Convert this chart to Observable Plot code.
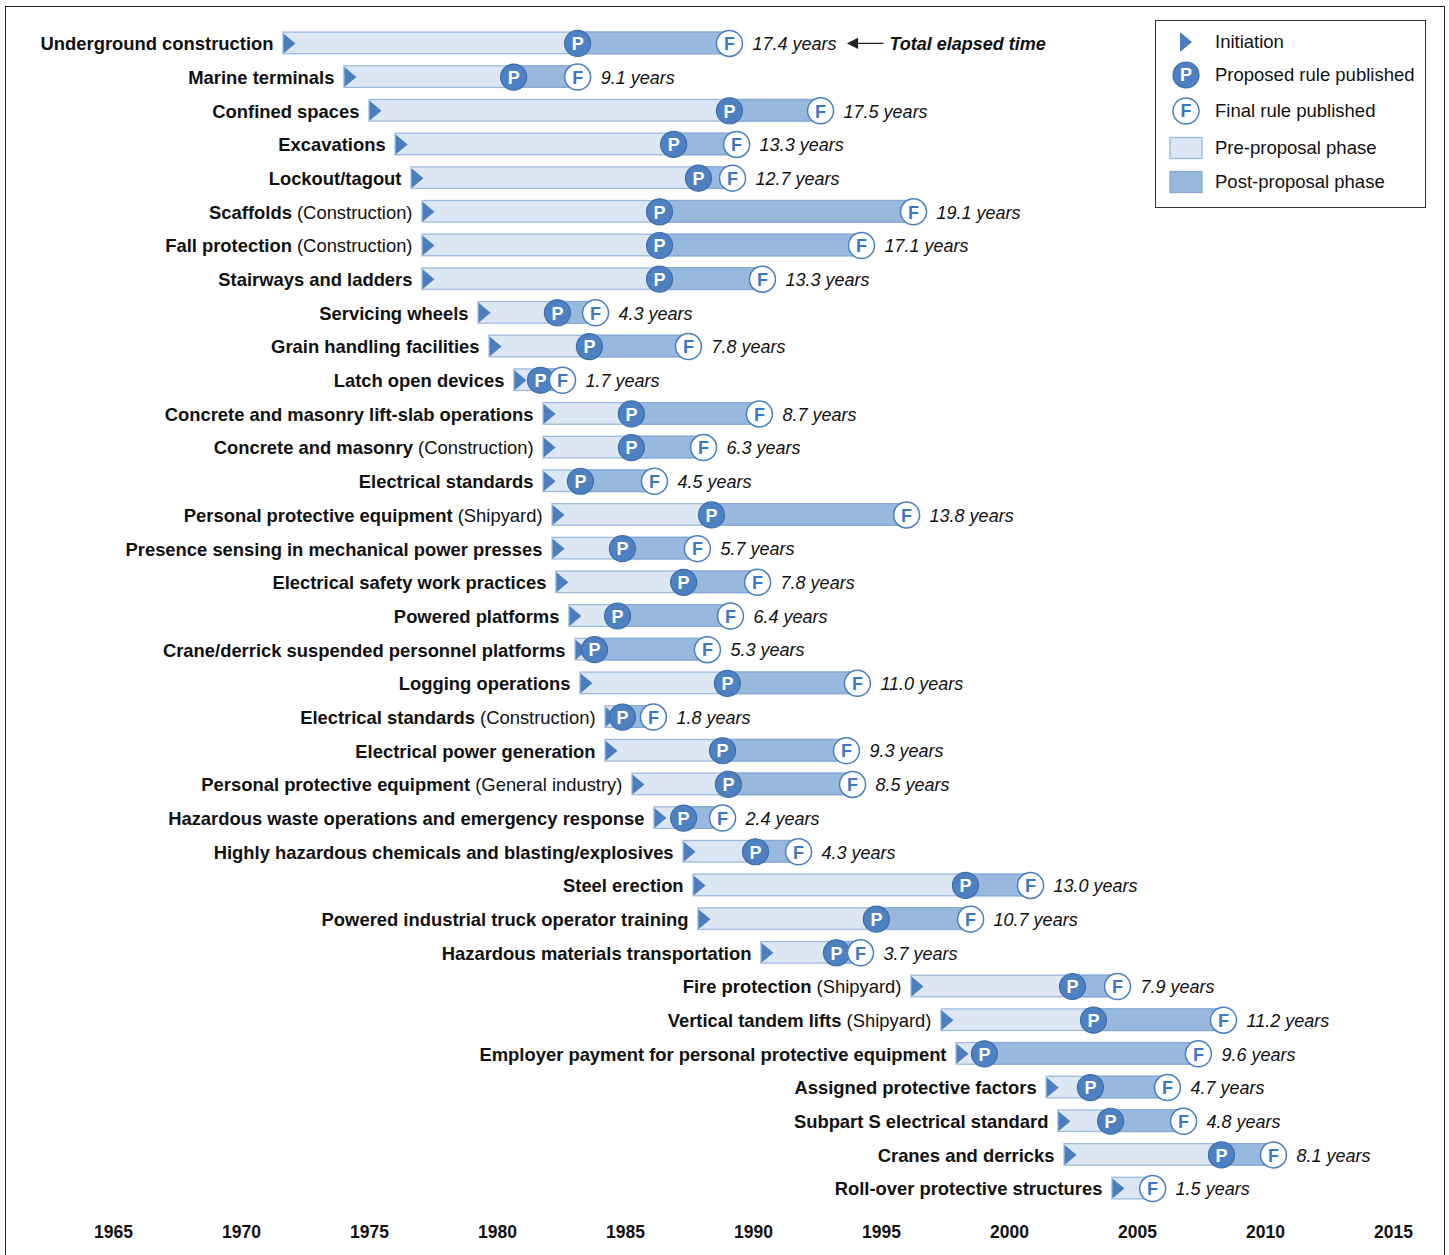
<!DOCTYPE html>
<html>
<head>
<meta charset="utf-8">
<script src="https://cdn.jsdelivr.net/npm/d3@7"></script>
<script src="https://cdn.jsdelivr.net/npm/@observablehq/plot@0.6"></script>
<style>
  body { margin: 0; background: #fff; font-family: "Liberation Sans", Arial, sans-serif; }
  #wrap { position: relative; width: 1449px; height: 1255px; overflow: hidden; background: #fff; }
  #chart { position: absolute; left: 0; top: 0; }
  #frame { position: absolute; left: 5px; top: 6px; width: 1440px; height: 1300px; border: 1.5px solid #222; box-sizing: border-box; pointer-events: none; }
  #legend { position: absolute; left: 1155px; top: 20px; width: 271px; height: 188px; border: 1.5px solid #333; box-sizing: border-box; background: #fff; }
  .li { position: absolute; left: 0; height: 30px; width: 268px; }
  .li svg { position: absolute; left: 0; top: 0; }
  .li span { position: absolute; left: 59px; top: 50%; transform: translateY(-50%); font-size: 18.5px; color: #111; white-space: nowrap; }
</style>
</head>
<body>
<div id="wrap">
  <div id="chart"></div>
  <div id="legend"></div>
  <div id="frame"></div>
</div>
<script>
// ---- Data (years) ----
const topics = [
  "Underground construction", "Marine terminals", "Confined spaces", "Excavations", "Lockout/tagout",
  "Scaffolds", "Fall protection", "Stairways and ladders", "Servicing wheels", "Grain handling facilities",
  "Latch open devices", "Concrete and masonry lift-slab operations", "Concrete and masonry", "Electrical standards",
  "Personal protective equipment", "Presence sensing in mechanical power presses", "Electrical safety work practices",
  "Powered platforms", "Crane/derrick suspended personnel platforms", "Logging operations", "Electrical standards",
  "Electrical power generation", "Personal protective equipment", "Hazardous waste operations and emergency response",
  "Highly hazardous chemicals and blasting/explosives", "Steel erection", "Powered industrial truck operator training",
  "Hazardous materials transportation", "Fire protection", "Vertical tandem lifts",
  "Employer payment for personal protective equipment", "Assigned protective factors", "Subpart S electrical standard",
  "Cranes and derricks", "Roll-over protective structures"
];
const qualifiers = [
  "", "", "", "", "", "(Construction)", "(Construction)", "", "", "",
  "", "", "(Construction)", "", "(Shipyard)", "", "", "", "", "",
  "(Construction)", "", "(General industry)", "", "", "", "", "", "(Shipyard)", "(Shipyard)",
  "", "", "", "", ""
];
const initiationYear = [
  1971.64, 1974.02, 1975.00, 1976.02, 1976.64, 1977.07, 1977.07, 1977.07, 1979.26, 1979.69,
  1980.66, 1981.80, 1981.80, 1981.80, 1982.15, 1982.15, 1982.30, 1982.81, 1983.05, 1983.24,
  1984.22, 1984.22, 1985.27, 1986.13, 1987.27, 1987.66, 1987.85, 1990.31, 1996.17, 1997.34,
  1997.93, 2001.45, 2001.91, 2002.15, 2004.02
];
const proposedYear = [
  1983.13, 1980.63, 1989.06, 1986.88, 1987.85, 1986.33, 1986.33, 1986.33, 1982.34, 1983.59,
  1981.68, 1985.23, 1985.23, 1983.24, 1988.36, 1984.88, 1987.27, 1984.69, 1983.79, 1988.98,
  1984.88, 1988.79, 1989.02, 1987.27, 1990.08, 1998.28, 1994.80, 1993.24, 2002.46, 2003.28,
  1999.02, 2003.16, 2003.95, 2008.28, null
];
const finalYear = [
  1989.06, 1983.13, 1992.62, 1989.34, 1989.18, 1996.25, 1994.22, 1990.35, 1983.83, 1987.46,
  1982.54, 1990.23, 1988.05, 1986.13, 1995.98, 1987.81, 1990.16, 1989.10, 1988.20, 1994.06,
  1986.09, 1993.63, 1993.87, 1988.79, 1991.76, 2000.82, 1998.48, 1994.18, 2004.22, 2008.36,
  2007.38, 2006.17, 2006.80, 2010.31, 2005.59
];
const elapsedYears = [
  17.4, 9.1, 17.5, 13.3, 12.7, 19.1, 17.1, 13.3, 4.3, 7.8,
  1.7, 8.7, 6.3, 4.5, 13.8, 5.7, 7.8, 6.4, 5.3, 11.0,
  1.8, 9.3, 8.5, 2.4, 4.3, 13.0, 10.7, 3.7, 7.9, 11.2,
  9.6, 4.7, 4.8, 8.1, 1.5
];
const yearTicks = [1965, 1970, 1975, 1980, 1985, 1990, 1995, 2000, 2005, 2010, 2015];
const annotationText = "Total elapsed time";
const legendLabels = ["Initiation", "Proposed rule published", "Final rule published", "Pre-proposal phase", "Post-proposal phase"];

// ---- Table ----
const rows = topics.map((t, i) => ({
  key: qualifiers[i] ? `${t} ${qualifiers[i]}` : t,
  init: initiationYear[i],
  proposed: proposedYear[i],
  final: finalYear[i],
  elapsed: elapsedYears[i]
}));
const withP = rows.filter(d => d.proposed != null);
const qualifiedKeys = new Set(rows.filter((d, i) => qualifiers[i]).map(d => d.key));

// ---- Styles ----
const FONT = '"Liberation Sans", Arial, Helvetica, sans-serif';
const C = {
  preFill: "#dde7f3", preStroke: "#9dbbe0",
  postFill: "#99b8de", postStroke: "#86a9d5",
  pFill: "#4d81c2", pStroke: "#3d6dab",
  fStroke: "#4a7fc1", fText: "#3b77c2",
  tri: "#4a7ebf"
};
const triangle = { draw(ctx) { ctx.moveTo(0, -10); ctx.lineTo(12, 0); ctx.lineTo(0, 10); ctx.closePath(); } };
const leftArrow = { draw(ctx) {
  ctx.moveTo(-18, 0); ctx.lineTo(-9, -4.5); ctx.lineTo(-9, 4.5); ctx.closePath();
  ctx.moveTo(-10, 0); ctx.lineTo(17, 0);
} };

const plot = Plot.plot({
  width: 1449,
  height: 1255,
  marginLeft: 113,
  marginRight: 56,
  marginTop: 20,
  marginBottom: 44,
  style: { fontFamily: FONT, background: "transparent", overflow: "visible" },
  x: { domain: [1965, 2015], label: null },
  y: { domain: rows.map(d => d.key), padding: 0.36, round: false, label: null, axis: null },
  marks: [
    Plot.axisX({ ticks: yearTicks, tickFormat: d => String(d), tickSize: 0, tickPadding: 14,
      fontSize: 17.5, fontWeight: "bold", fill: "#111", label: null }),
    Plot.barX(rows, { x1: "init", x2: "final", y: "key", fill: C.preFill, stroke: C.preStroke, strokeWidth: 1.3 }),
    Plot.barX(withP, { x1: "proposed", x2: "final", y: "key", fill: C.postFill, stroke: C.postStroke, strokeWidth: 1.3 }),
    Plot.dot(rows, { x: "init", y: "key", symbol: triangle, fill: C.tri, stroke: "none" }),
    Plot.dot(withP, { x: "proposed", y: "key", r: 13, fill: C.pFill, stroke: C.pStroke, strokeWidth: 1.2 }),
    Plot.text(withP, { x: "proposed", y: "key", text: () => "P", fill: "white", fontWeight: "bold", fontSize: 18, dy: 1 }),
    Plot.dot(rows, { x: "final", y: "key", r: 13, fill: "white", stroke: C.fStroke, strokeWidth: 1.5 }),
    Plot.text(rows, { x: "final", y: "key", text: () => "F", fill: C.fText, fontWeight: "bold", fontSize: 18, dy: 1 }),
    Plot.text(rows, { x: "init", y: "key", text: "key", textAnchor: "end", dx: -10, dy: 1,
      fontSize: 18.4, fontWeight: "bold", fill: "#111" }),
    Plot.text(rows, { x: "final", y: "key", text: d => `${d.elapsed.toFixed(1)} years`, textAnchor: "start",
      dx: 23, dy: 1, fontSize: 18, fontStyle: "italic", fill: "#111" }),
    Plot.dot(rows.slice(0, 1), { x: "final", y: "key", symbol: leftArrow, dx: 137, fill: "#222", stroke: "#222", strokeWidth: 1.3 }),
    Plot.text(rows.slice(0, 1), { x: "final", y: "key", text: () => annotationText, textAnchor: "start", dx: 160, dy: 1,
      fontSize: 18, fontWeight: "bold", fontStyle: "italic", fill: "#111" })
  ]
});

// bold topic + regular qualifier
d3.select(plot).selectAll("text").each(function () {
  const t = this.textContent;
  if (!qualifiedKeys.has(t)) return;
  const i = t.indexOf(" (");
  this.textContent = "";
  const s = d3.select(this);
  s.append("tspan").text(t.slice(0, i));
  s.append("tspan").attr("font-weight", "normal").style("font-weight", "normal").text(t.slice(i));
});
document.getElementById("chart").appendChild(plot);

// ---- Legend ----
const legend = d3.select("#legend");
const ys = [21, 54, 90, 127, 161]; // item centres relative to the box
legendLabels.forEach((lab, i) => {
  const item = legend.append("div").attr("class", "li").style("top", (ys[i] - 15) + "px");
  const svg = item.append("svg").attr("width", 60).attr("height", 30);
  const g = svg.append("g").attr("transform", "translate(30,15)");
  if (i === 0) {
    g.append("path").attr("d", "M-6,-10L6,0L-6,10Z").attr("fill", C.tri);
  } else if (i === 1 || i === 2) {
    g.append("circle").attr("r", 13).attr("fill", i === 1 ? C.pFill : "white")
      .attr("stroke", i === 1 ? C.pStroke : C.fStroke).attr("stroke-width", i === 1 ? 1.2 : 1.5);
    g.append("text").attr("text-anchor", "middle").attr("dy", "0.36em").attr("font-family", FONT)
      .attr("font-weight", "bold").attr("font-size", 18).attr("fill", i === 1 ? "white" : C.fText)
      .text(i === 1 ? "P" : "F");
  } else {
    g.append("rect").attr("x", -16).attr("y", -10.5).attr("width", 32).attr("height", 21)
      .attr("fill", i === 3 ? C.preFill : C.postFill).attr("stroke", i === 3 ? C.preStroke : C.postStroke).attr("stroke-width", 1.3);
  }
  item.append("span").text(lab);
});
</script>
</body>
</html>
